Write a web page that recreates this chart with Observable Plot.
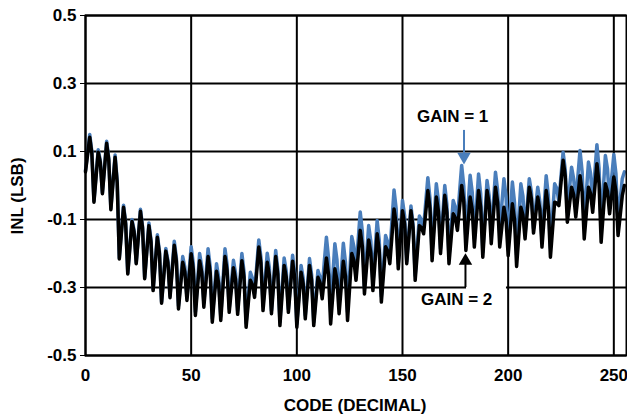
<!DOCTYPE html>
<html><head><meta charset="utf-8">
<script src="https://cdn.jsdelivr.net/npm/d3@7"></script>
<script src="https://cdn.jsdelivr.net/npm/@observablehq/plot@0.6"></script>
<style>html,body{margin:0;padding:0;background:#fff;} svg{display:block}</style>
</head><body><div id="chart"></div>
<script>
// INL (LSB) per code, GAIN = 1 (blue)
const gain1 = [
 0.044,0.097,0.150,0.100, -0.045,0.031,0.105,0.074, -0.021,0.055,0.130,0.080, -0.067,0.012,0.090,0.014,
 -0.213,-0.135,-0.058,-0.108, -0.257,-0.178,-0.100,-0.132, -0.227,-0.148,-0.070,-0.121, -0.270,-0.190,-0.110,-0.160,
 -0.305,-0.225,-0.145,-0.195, -0.342,-0.264,-0.185,-0.221, -0.324,-0.243,-0.164,-0.213, -0.354,-0.281,-0.209,-0.240,
 -0.328,-0.253,-0.180,-0.229, -0.372,-0.285,-0.200,-0.238, -0.346,-0.266,-0.186,-0.239, -0.391,-0.309,-0.230,-0.270,
 -0.385,-0.285,-0.186,-0.232, -0.362,-0.290,-0.220,-0.258, -0.368,-0.283,-0.200,-0.253, -0.405,-0.329,-0.255,-0.273,
 -0.318,-0.238,-0.160,-0.211, -0.354,-0.275,-0.199,-0.242, -0.368,-0.279,-0.191,-0.246, -0.401,-0.306,-0.213,-0.252,
 -0.364,-0.284,-0.205,-0.258, -0.407,-0.320,-0.235,-0.273, -0.382,-0.298,-0.215,-0.263, -0.402,-0.325,-0.250,-0.270,
 -0.302,-0.224,-0.152,-0.213, -0.370,-0.267,-0.171,-0.219, -0.350,-0.258,-0.170,-0.225, -0.372,-0.259,-0.150,-0.180,
 -0.252,-0.163,-0.078,-0.136, -0.298,-0.206,-0.118,-0.163, -0.290,-0.195,-0.103,-0.161, -0.326,-0.236,-0.147,-0.167,
 -0.202,-0.105,-0.013,-0.068, -0.230,-0.136,-0.044,-0.089, -0.223,-0.141,-0.060,-0.114, -0.265,-0.177,-0.090,-0.102,
 -0.123,-0.049,0.023,-0.037, -0.202,-0.097,0.005,-0.045, -0.186,-0.092,0.000,-0.056, -0.211,-0.126,-0.044,-0.064,
 -0.103,-0.019,0.059,-0.001, -0.159,-0.062,0.030,-0.020, -0.157,-0.059,0.034,-0.025, -0.196,-0.089,0.015,-0.030,
 -0.149,-0.053,0.039,-0.014, -0.139,-0.056,0.020,-0.033, -0.174,-0.079,0.010,-0.049, -0.204,-0.096,0.005,-0.032,
 -0.145,-0.061,0.020,-0.019, -0.126,-0.064,-0.005,-0.048, -0.159,-0.063,0.029,-0.029, -0.184,-0.087,0.005,-0.009,
 -0.047,0.027,0.098,0.047, -0.079,-0.010,0.054,0.020, -0.056,0.027,0.103,0.041, -0.120,-0.022,0.069,0.035,
 -0.051,0.037,0.120,0.051, -0.126,-0.015,0.088,0.049, -0.050,0.024,0.091,0.035, -0.117,-0.042,0.020,0.040
];
// INL (LSB) per code, GAIN = 2 (black)
const gain2 = [
 0.040,0.091,0.142,0.094, -0.049,0.025,0.098,0.068, -0.024,0.050,0.124,0.075, -0.071,0.006,0.083,0.008,
 -0.216,-0.140,-0.064,-0.113, -0.260,-0.183,-0.106,-0.137, -0.230,-0.153,-0.076,-0.126, -0.274,-0.196,-0.118,-0.166,
 -0.309,-0.231,-0.152,-0.201, -0.346,-0.270,-0.193,-0.227, -0.330,-0.253,-0.176,-0.223, -0.363,-0.295,-0.226,-0.254,
 -0.338,-0.270,-0.201,-0.246, -0.382,-0.302,-0.221,-0.255, -0.358,-0.284,-0.209,-0.257, -0.402,-0.327,-0.252,-0.288,
 -0.397,-0.303,-0.209,-0.250, -0.373,-0.308,-0.242,-0.276, -0.379,-0.300,-0.221,-0.270, -0.417,-0.348,-0.279,-0.292,
 -0.329,-0.255,-0.181,-0.228, -0.368,-0.297,-0.226,-0.264, -0.377,-0.293,-0.209,-0.260, -0.412,-0.324,-0.235,-0.270,
 -0.373,-0.298,-0.223,-0.272, -0.417,-0.336,-0.255,-0.289, -0.392,-0.314,-0.235,-0.279, -0.412,-0.341,-0.270,-0.286,
 -0.333,-0.273,-0.213,-0.262, -0.407,-0.326,-0.245,-0.278, -0.377,-0.300,-0.223,-0.267, -0.397,-0.299,-0.200,-0.220,
 -0.279,-0.206,-0.132,-0.179, -0.319,-0.240,-0.160,-0.197, -0.309,-0.226,-0.142,-0.192, -0.343,-0.262,-0.180,-0.193,
 -0.230,-0.150,-0.069,-0.113, -0.245,-0.160,-0.074,-0.113, -0.230,-0.152,-0.074,-0.125, -0.279,-0.199,-0.118,-0.124,
 -0.142,-0.079,-0.015,-0.067, -0.221,-0.128,-0.034,-0.076, -0.200,-0.115,-0.029,-0.079, -0.230,-0.157,-0.083,-0.095,
 -0.132,-0.066,0.000,-0.048, -0.191,-0.113,-0.034,-0.071, -0.181,-0.098,-0.015,-0.064, -0.211,-0.113,-0.015,-0.054,
 -0.171,-0.088,-0.005,-0.049, -0.181,-0.123,-0.064,-0.100, -0.206,-0.130,-0.054,-0.100, -0.238,-0.151,-0.064,-0.087,
 -0.157,-0.081,-0.005,-0.039, -0.140,-0.087,-0.034,-0.071, -0.181,-0.098,-0.015,-0.064, -0.211,-0.130,-0.049,-0.052,
 -0.059,0.008,0.074,0.028, -0.108,-0.057,-0.005,-0.027, -0.093,-0.032,0.029,-0.018, -0.157,-0.081,-0.005,-0.024,
 -0.079,-0.008,0.064,0.006, -0.167,-0.081,0.005,-0.017, -0.083,-0.029,0.025,-0.018, -0.147,-0.090,-0.030,0.000
];
const xTicks = [0, 50, 100, 150, 200, 250];
const yTicks = [-0.5, -0.3, -0.1, 0.1, 0.3, 0.5];
const labels = ["GAIN = 1", "GAIN = 2"];
const labelX = [173.7, 175.6];
const labelY = [0.203, -0.335];
const arrowX = [179.1, 179.8];
const arrowFrom = [0.162, -0.3];
const arrowTo = [0.085, -0.222];
const colors = ["#4a7ebb", "#000000"];
// white backing behind the lower label (code range, INL range)
const maskX = [180.3, 199.2];
const maskY = [-0.279, -0.39];

const rows1 = gain1.map((v, i) => ({code: i, v}));
const rows2 = gain2.map((v, i) => ({code: i, v}));
const labelRows = labels.map((t, i) => ({t, x: labelX[i], y: labelY[i]}));
const arrowRows = labels.map((t, i) => ({x: arrowX[i], y1: arrowFrom[i], y2: arrowTo[i], c: colors[i], rot: i === 0 ? 180 : 0}));
const maskRows = [{x1: maskX[0], x2: maskX[1], y1: maskY[0], y2: maskY[1]}];

const font = "'Liberation Sans', Arial, sans-serif";
const fs = 17;
const plot = Plot.plot({
  width: 627, height: 418,
  marginLeft: 85, marginRight: 1, marginTop: 15, marginBottom: 63,
  x: {domain: [0, 256]},
  y: {domain: [-0.5, 0.5]},
  style: {fontFamily: font, fontWeight: "bold", fontSize: fs + "px", color: "#000", background: "#fff"},
  marks: [
    Plot.ruleX(xTicks, {stroke: "#000", strokeWidth: 2}),
    Plot.ruleY(yTicks, {stroke: "#000", strokeWidth: 2}),
    Plot.rect(maskRows, {x1: "x1", x2: "x2", y1: "y1", y2: "y2", fill: "#fff"}),
    Plot.line(rows1, {x: "code", y: "v", stroke: colors[0], strokeWidth: 3.5, strokeLinejoin: "round"}),
    Plot.line(rows2, {x: "code", y: "v", stroke: colors[1], strokeWidth: 3.5, strokeLinejoin: "round"}),
    Plot.frame({stroke: "#000", strokeWidth: 2}),
    Plot.ruleX(arrowRows, {x: "x", y1: "y1", y2: "y2", stroke: "c", strokeWidth: 2}),
    Plot.dot(arrowRows, {x: "x", y: "y2", symbol: "triangle", r: 5, fill: "c", stroke: "none", rotate: "rot"}),
    Plot.text(labelRows, {x: "x", y: "y", text: "t", fontSize: fs, fontWeight: "bold", fill: "#000"}),
    Plot.axisY({ticks: yTicks, tickFormat: d => d.toFixed(1), tickSize: 5, tickPadding: 4, label: null, fontSize: fs, fontWeight: "bold"}),
    Plot.axisX({ticks: xTicks, tickFormat: d => String(d), tickSize: 0, tickPadding: 13, label: null, fontSize: fs, fontWeight: "bold"})
  ]
});
const svg = d3.select(plot);
svg.append("text").attr("transform", "translate(23,196) rotate(-90)").attr("text-anchor", "middle")
  .attr("font-family", font).attr("font-weight", "bold").attr("font-size", fs).attr("fill", "#000").text("INL (LSB)");
svg.append("text").attr("x", 355).attr("y", 411).attr("text-anchor", "middle")
  .attr("font-family", font).attr("font-weight", "bold").attr("font-size", fs).attr("fill", "#000").text("CODE (DECIMAL)");
document.getElementById("chart").appendChild(plot);
</script>
</body></html>
